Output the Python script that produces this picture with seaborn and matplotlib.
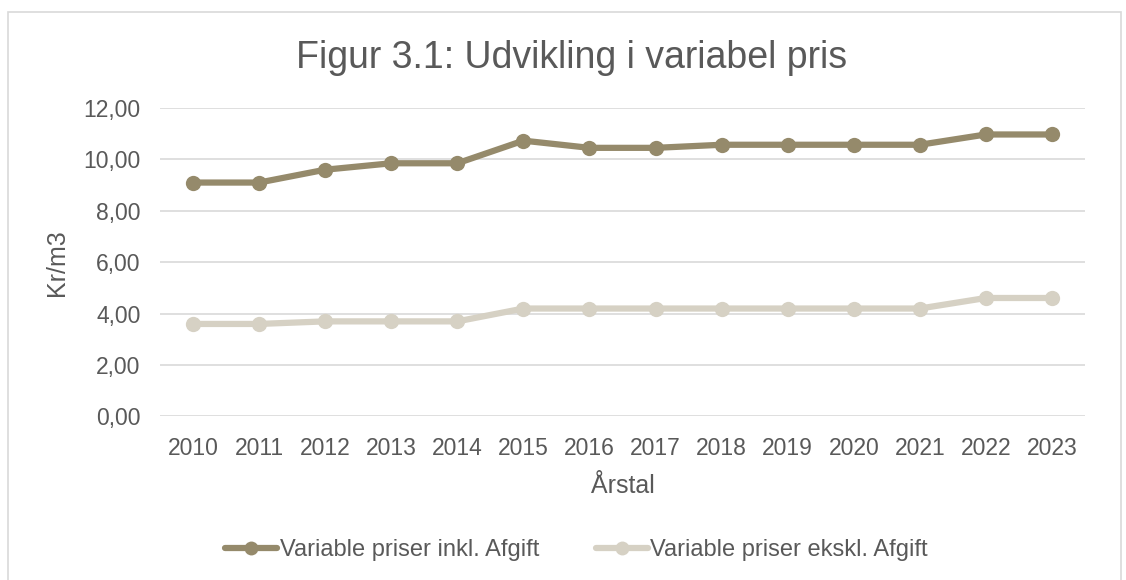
import matplotlib.pyplot as plt
import matplotlib.patches as mpatches
import matplotlib.ticker as mticker
import pandas as pd
import seaborn as sns

# Data
years = [2010, 2011, 2012, 2013, 2014, 2015, 2016, 2017, 2018, 2019, 2020, 2021, 2022, 2023]
inkl_afgift = [9.10, 9.10, 9.60, 9.85, 9.85, 10.73, 10.45, 10.45, 10.57, 10.57, 10.57, 10.57, 10.97, 10.97]
ekskl_afgift = [3.60, 3.60, 3.70, 3.70, 3.70, 4.20, 4.20, 4.20, 4.20, 4.20, 4.20, 4.20, 4.61, 4.61]
series_names = ['Variable priser inkl. Afgift', 'Variable priser ekskl. Afgift']

df = pd.DataFrame({
    'Årstal': years * 2,
    'Kr/m3': inkl_afgift + ekskl_afgift,
    'Serie': [series_names[0]] * len(years) + [series_names[1]] * len(years),
})

sns.set_theme(style='white')
plt.rcParams['font.family'] = ['Liberation Sans', 'DejaVu Sans']

text_col = '#595959'
palette = {series_names[0]: '#958A6B', series_names[1]: '#D6D1C4'}

fig = plt.figure(figsize=(11.26, 5.8), dpi=100)
ax = fig.add_axes([0.1421, 0.2819, 0.8215, 0.5319])

# chart frame like the Excel chart area
fig.patches.append(mpatches.Rectangle((8 / 1126, -0.05), 1113 / 1126, 1 - 12 / 580 + 0.05,
                                      transform=fig.transFigure, fill=False,
                                      edgecolor='#D9D9D9', linewidth=1.2, zorder=0))

sns.lineplot(data=df, x='Årstal', y='Kr/m3', hue='Serie', palette=palette,
             marker='o', markersize=11, markeredgewidth=0, linewidth=4.5,
             ax=ax, legend=False, zorder=3)

ax.set_xlim(2009.5, 2023.5)
ax.set_ylim(0, 12)
ax.set_xticks(years)
ax.set_xticklabels([str(y) for y in years])
ax.set_yticks([0, 2, 4, 6, 8, 10, 12])
ax.yaxis.set_major_formatter(mticker.FuncFormatter(lambda v, p: f'{v:.2f}'.replace('.', ',')))

ax.grid(axis='y', color='#D9D9D9', linewidth=1.2)
ax.grid(axis='x', visible=False)
for s in ax.spines.values():
    s.set_visible(False)
ax.tick_params(axis='both', length=0, labelsize=16.5, labelcolor=text_col)
ax.tick_params(axis='x', pad=15)
ax.tick_params(axis='y', pad=14)

ax.set_xlabel('Årstal', fontsize=18, color=text_col, labelpad=10)
ax.set_ylabel('Kr/m3', fontsize=18, color=text_col, labelpad=10)
fig.text(0.508, 0.900, 'Figur 3.1: Udvikling i variabel pris', ha='center', va='center',
         fontsize=27, color=text_col)

handles = [plt.Line2D([], [], color=palette[n], linewidth=4.5, marker='o', markersize=10,
                      markeredgewidth=0) for n in series_names]
fig.legend(handles, series_names, loc='center', bbox_to_anchor=(0.512, 0.052), ncol=2,
           frameon=False, fontsize=17, labelcolor=text_col, handlelength=2.2,
           handletextpad=0.1, columnspacing=2.4)

fig.savefig('out.png', dpi=100)
